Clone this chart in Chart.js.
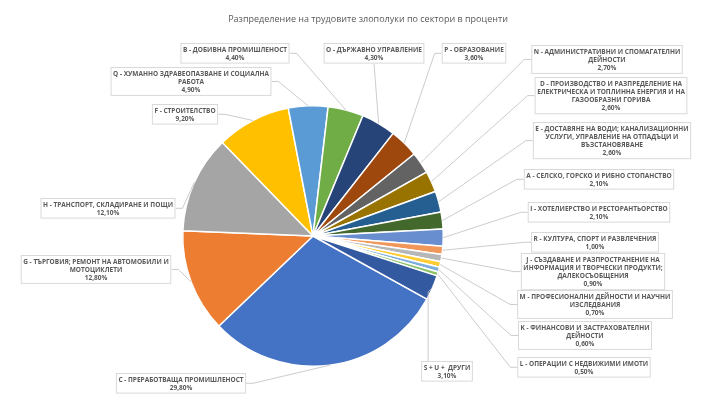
<!DOCTYPE html>
<html>
<head>
<meta charset="utf-8">
<script src="https://cdn.jsdelivr.net/npm/chart.js@4.4.1/dist/chart.umd.min.js"></script>
<style>
  html, body { margin: 0; padding: 0; background: #fff; }
  #wrap { width: 715px; height: 400px; position: relative; }
</style>
</head>
<body>
<div id="wrap"><canvas id="chart"></canvas></div>
<script>
const title = 'Разпределение на трудовите злополуки по сектори в проценти';

// sectors in the order the slices are drawn (clockwise)
const sectorLines = [
    ['C - ПРЕРАБОТВАЩА ПРОМИШЛЕНОСТ'],
    ['G - ТЪРГОВИЯ; РЕМОНТ НА АВТОМОБИЛИ И', 'МОТОЦИКЛЕТИ'],
    ['H - ТРАНСПОРТ, СКЛАДИРАНЕ И ПОЩИ'],
    ['F - СТРОИТЕЛСТВО'],
    ['Q - ХУМАННО ЗДРАВЕОПАЗВАНЕ И СОЦИАЛНА', 'РАБОТА'],
    ['B - ДОБИВНА ПРОМИШЛЕНОСТ'],
    ['O - ДЪРЖАВНО УПРАВЛЕНИЕ'],
    ['P - ОБРАЗОВАНИЕ'],
    ['N - АДМИНИСТРАТИВНИ И СПОМАГАТЕЛНИ', 'ДЕЙНОСТИ'],
    ['D - ПРОИЗВОДСТВО И РАЗПРЕДЕЛЕНИЕ НА', 'ЕЛЕКТРИЧЕСКА И ТОПЛИННА ЕНЕРГИЯ И НА', 'ГАЗООБРАЗНИ ГОРИВА'],
    ['E - ДОСТАВЯНЕ НА ВОДИ; КАНАЛИЗАЦИОННИ', 'УСЛУГИ, УПРАВЛЕНИЕ НА ОТПАДЪЦИ И', 'ВЪЗСТАНОВЯВАНЕ'],
    ['A - СЕЛСКО, ГОРСКО И РИБНО СТОПАНСТВО'],
    ['I - ХОТЕЛИЕРСТВО И РЕСТОРАНТЬОРСТВО'],
    ['R - КУЛТУРА, СПОРТ И РАЗВЛЕЧЕНИЯ'],
    ['J - СЪЗДАВАНЕ И РАЗПРОСТРАНЕНИЕ НА', 'ИНФОРМАЦИЯ И ТВОРЧЕСКИ ПРОДУКТИ;', 'ДАЛЕКОСЪОБЩЕНИЯ'],
    ['M - ПРОФЕСИОНАЛНИ ДЕЙНОСТИ И НАУЧНИ', 'ИЗСЛЕДВАНИЯ'],
    ['K - ФИНАНСОВИ И ЗАСТРАХОВАТЕЛНИ', 'ДЕЙНОСТИ'],
    ['L - ОПЕРАЦИИ С НЕДВИЖИМИ ИМОТИ'],
    ['S + U +  ДРУГИ'],
];
const percents = [29.8, 12.8, 12.1, 9.2, 4.9, 4.4, 4.3, 3.6, 2.7, 2.6, 2.6, 2.1, 2.1, 1.0, 0.9, 0.7, 0.6, 0.5, 3.1];

const sliceColors = [
    '#4472C4', '#ED7D31', '#A5A5A5', '#FFC000', '#5B9BD5', '#70AD47',
    '#264478', '#9E480E', '#636363', '#997300', '#255E91', '#43682B',
    '#698ED0', '#F1975A', '#B7B7B7', '#FFCD33', '#7CAFDD', '#8CC168', '#335AA1'
];

// label box placement: centre x, top y, side the leader line joins
const boxPlace = [
    [181, 373, 'r'], [96, 255, 'r'], [108, 198, 'r'], [185, 104, 'r'], [191, 67, 'r'],
    [235, 43, 'r'], [374, 43, 'b'], [474, 43, 'l'], [607, 45, 'l'], [611, 77, 'l'],
    [612, 122, 'l'], [599, 169, 'l'], [599, 202, 'l'], [595, 232, 'l'], [593, 253, 'l'],
    [595, 290, 'l'], [585, 321, 'l'], [584, 357, 'l'], [447, 361, 't']
];

const fmt = v => v.toFixed(2).replace('.', ',') + '%';

const calloutPlugin = {
    id: 'callouts',
    afterDatasetsDraw(chart) {
        const ctx = chart.ctx;
        const arcs = chart.getDatasetMeta(0).data;
        const lineH = 8.3, pad = 2;
        ctx.save();

        // chart title, centred over the whole picture
        ctx.font = '9px "Open Sans"';
        ctx.fillStyle = '#595959';
        ctx.textAlign = 'center';
        ctx.textBaseline = 'middle';
        ctx.fillText(title, 368, 19);

        ctx.font = 'bold 6.5px "Open Sans"';
        arcs.forEach((arc, i) => {
            const p = arc.getProps(['x', 'y', 'startAngle', 'endAngle', 'outerRadius'], true);
            const mid = (p.startAngle + p.endAngle) / 2;
            const ax = p.x + Math.cos(mid) * p.outerRadius;
            const ay = p.y + Math.sin(mid) * p.outerRadius;

            const lines = sectorLines[i].concat([fmt(percents[i])]);
            let w = 0;
            lines.forEach(l => { w = Math.max(w, ctx.measureText(l).width); });
            w += 5;
            const h = lines.length * lineH + pad * 2;
            const [cx, top, side] = boxPlace[i];
            const left = cx - w / 2, right = cx + w / 2, midY = top + h / 2;

            // leader line
            ctx.strokeStyle = '#bfbfbf';
            ctx.lineWidth = 0.8;
            ctx.beginPath();
            ctx.moveTo(ax, ay);
            if (side === 'l') { ctx.lineTo(left - 7, midY); ctx.lineTo(left, midY); }
            else if (side === 'r') { ctx.lineTo(right + 7, midY); ctx.lineTo(right, midY); }
            else if (side === 'b') { ctx.lineTo(cx, top + h); }
            else if (side === 't') { ctx.lineTo(left + 7, ay + 4); ctx.lineTo(left + 7, top); }
            ctx.stroke();

            // box
            ctx.fillStyle = '#fff';
            ctx.fillRect(left, top, w, h);
            ctx.strokeStyle = '#d9d9d9';
            ctx.lineWidth = 1;
            ctx.strokeRect(left + 0.5, top + 0.5, w - 1, h - 1);

            ctx.fillStyle = '#595959';
            lines.forEach((l, k) => {
                ctx.fillText(l, cx, top + pad + lineH * (k + 0.5) + 0.5);
            });
        });
        ctx.restore();
    }
};

new Chart(document.getElementById('chart'), {
    type: 'pie',
    data: {
        labels: sectorLines.map(l => l.join(' ')),
        datasets: [{
            data: percents,
            backgroundColor: sliceColors,
            borderColor: '#ffffff',
            borderWidth: 1.5,
        }]
    },
    options: {
        responsive: true,
        maintainAspectRatio: false,
        animation: false,
        rotation: 119,
        layout: { padding: { left: 182, right: 271, top: 105, bottom: 33 } },
        plugins: {
            legend: { display: false },
            tooltip: { enabled: false },
            title: { display: false },
        }
    },
    plugins: [calloutPlugin]
});
</script>
</body>
</html>
